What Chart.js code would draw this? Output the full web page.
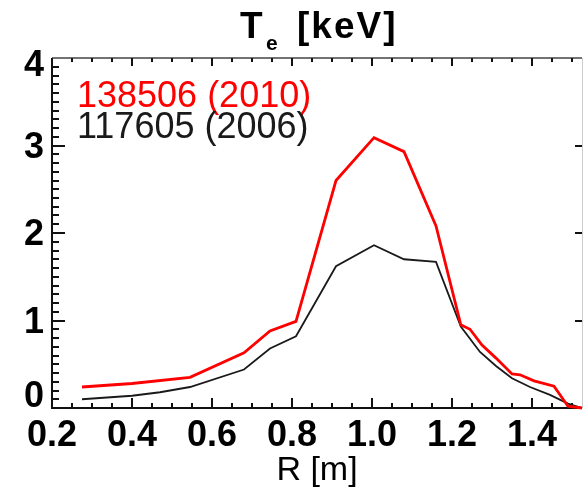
<!DOCTYPE html>
<html>
<head>
<meta charset="utf-8">
<script src="https://cdn.jsdelivr.net/npm/chart.js@4.4.1/dist/chart.umd.min.js"></script>
<style>
  html, body { margin: 0; padding: 0; background: #fff; }
  #teChart { display: block; }
</style>
</head>
<body>
<canvas id="teChart" width="583" height="495"></canvas>
<script>
// Shot 138506 (2010)
const r2010 = [0.275, 0.40, 0.545, 0.68, 0.745, 0.81, 0.91, 1.005, 1.08, 1.16, 1.222, 1.245, 1.275, 1.31, 1.35, 1.37, 1.405, 1.455, 1.49, 1.525];
const te2010 = [0.24, 0.28, 0.35, 0.63, 0.88, 0.99, 2.60, 3.09, 2.93, 2.08, 0.95, 0.90, 0.72, 0.57, 0.39, 0.38, 0.31, 0.25, 0.02, 0.0];

// Shot 117605 (2006)
const r2006 = [0.275, 0.40, 0.47, 0.545, 0.68, 0.745, 0.81, 0.91, 1.005, 1.08, 1.16, 1.222, 1.27, 1.31, 1.35, 1.395, 1.445, 1.49, 1.525];
const te2006 = [0.10, 0.14, 0.18, 0.24, 0.44, 0.68, 0.82, 1.62, 1.86, 1.70, 1.67, 0.93, 0.64, 0.48, 0.34, 0.24, 0.15, 0.05, 0.0];

const xTicks = [0.2, 0.4, 0.6, 0.8, 1.0, 1.2, 1.4];
const yTicks = [0, 1, 2, 3, 4];

const FONT = '"Liberation Sans", Arial, sans-serif';

function toPoints(xs, ys) {
    return xs.map((v, i) => ({ x: v, y: ys[i] }));
}

// axis box, inward ticks, y labels, title and in-plot legend
const framePlugin = {
    id: 'frame',
    beforeDatasetsDraw(chart) {
        const { ctx, chartArea: a, scales: { x, y } } = chart;
        ctx.save();
        ctx.lineCap = 'butt';

        ctx.strokeStyle = '#111';
        ctx.lineWidth = 2;
        ctx.beginPath();
        ctx.moveTo(a.left, a.top);
        ctx.lineTo(a.left, a.bottom);
        ctx.lineTo(a.right, a.bottom);
        ctx.stroke();

        ctx.strokeStyle = '#444';
        ctx.lineWidth = 1.5;
        ctx.beginPath();
        ctx.moveTo(a.left, a.top);
        ctx.lineTo(a.right, a.top);
        ctx.stroke();

        ctx.strokeStyle = '#ccc';
        ctx.lineWidth = 1;
        ctx.beginPath();
        ctx.moveTo(a.right + 0.5, a.top);
        ctx.lineTo(a.right + 0.5, a.bottom);
        ctx.stroke();

        // x ticks every 0.05, major every 0.2
        ctx.strokeStyle = '#111';
        ctx.lineWidth = 2;
        ctx.beginPath();
        for (let i = 0; ; i++) {
            const v = 0.2 + i * 0.05;
            if (v > x.max + 1e-9) break;
            const px = Math.round(x.getPixelForValue(v));
            const major = i % 4 === 0;
            if (i > 0) {
                ctx.moveTo(px, a.bottom);
                ctx.lineTo(px, a.bottom - (major ? 10 : 5));
            }
            ctx.moveTo(px, a.top);
            ctx.lineTo(px, a.top + (major ? 8 : 4));
        }
        // y ticks every 0.1, major every 1
        for (let i = 1; i < 40; i++) {
            const py = Math.round(y.getPixelForValue(i / 10));
            const major = i % 10 === 0;
            ctx.moveTo(a.left, py);
            ctx.lineTo(a.left + (major ? 13 : 7), py);
            if (major) {
                ctx.moveTo(a.right, py);
                ctx.lineTo(a.right - 7, py);
            }
        }
        ctx.stroke();

        // y tick labels, first and last kept inside the axis
        ctx.fillStyle = '#000';
        ctx.font = 'bold 36px ' + FONT;
        ctx.textAlign = 'right';
        ctx.textBaseline = 'alphabetic';
        yTicks.forEach(v => {
            const py = y.getPixelForValue(v);
            const base = Math.min(Math.max(py + 12, a.top + 18), a.bottom - 1);
            ctx.fillText(String(v), a.left - 8, base);
        });
        ctx.restore();
    },
    afterDraw(chart) {
        const { ctx } = chart;
        ctx.save();
        ctx.fillStyle = '#000';
        ctx.textAlign = 'left';
        ctx.textBaseline = 'alphabetic';

        // title: T_e [keV]
        ctx.font = 'bold 37px ' + FONT;
        ctx.fillText('T', 240, 38);
        ctx.font = 'bold 21px ' + FONT;
        ctx.fillText('e', 266, 50);
        ctx.font = 'bold 37px ' + FONT;
        ctx.letterSpacing = '2px';
        ctx.fillText('[keV]', 297, 38);
        ctx.letterSpacing = '0px';

        // legend text in dataset colours
        ctx.font = '36px ' + FONT;
        chart.data.datasets.forEach((ds, i) => {
            ctx.fillStyle = ds.borderColor;
            ctx.fillText(ds.label, 77, 107 + i * 31);
        });
        ctx.restore();
    }
};

new Chart(document.getElementById('teChart'), {
    type: 'line',
    data: {
        datasets: [
            {
                label: '138506 (2010)',
                data: toPoints(r2010, te2010),
                borderColor: '#ff0000',
                borderWidth: 2.8,
                pointRadius: 0,
                tension: 0,
                clip: 4
            },
            {
                label: '117605 (2006)',
                data: toPoints(r2006, te2006),
                borderColor: '#1a1a1a',
                borderWidth: 1.8,
                pointRadius: 0,
                tension: 0,
                clip: 4
            }
        ]
    },
    options: {
        responsive: false,
        animation: false,
        devicePixelRatio: 1,
        layout: { padding: { top: 58, right: 1, left: 0, bottom: 0 } },
        plugins: {
            legend: { display: false },
            tooltip: { enabled: false },
            title: { display: false }
        },
        scales: {
            x: {
                type: 'linear',
                min: 0.2,
                max: 1.525,
                grid: { display: false, drawTicks: false },
                border: { display: false },
                afterBuildTicks: s => { s.ticks = xTicks.map(v => ({ value: v })); },
                afterFit: s => { s.height = 87; },
                ticks: {
                    color: '#000',
                    font: { family: FONT, size: 36, weight: 'bold' },
                    padding: 6,
                    maxRotation: 0,
                    autoSkip: false,
                    callback: v => Number(v).toFixed(1)
                },
                title: {
                    display: true,
                    text: 'R [m]',
                    color: '#000',
                    font: { family: FONT, size: 34 },
                    padding: { top: 0, bottom: 4 }
                }
            },
            y: {
                min: 0,
                max: 4,
                grid: { display: false, drawTicks: false },
                border: { display: false },
                ticks: { display: false },
                afterFit: s => { s.width = 52; }
            }
        }
    },
    plugins: [framePlugin]
});
</script>
</body>
</html>
